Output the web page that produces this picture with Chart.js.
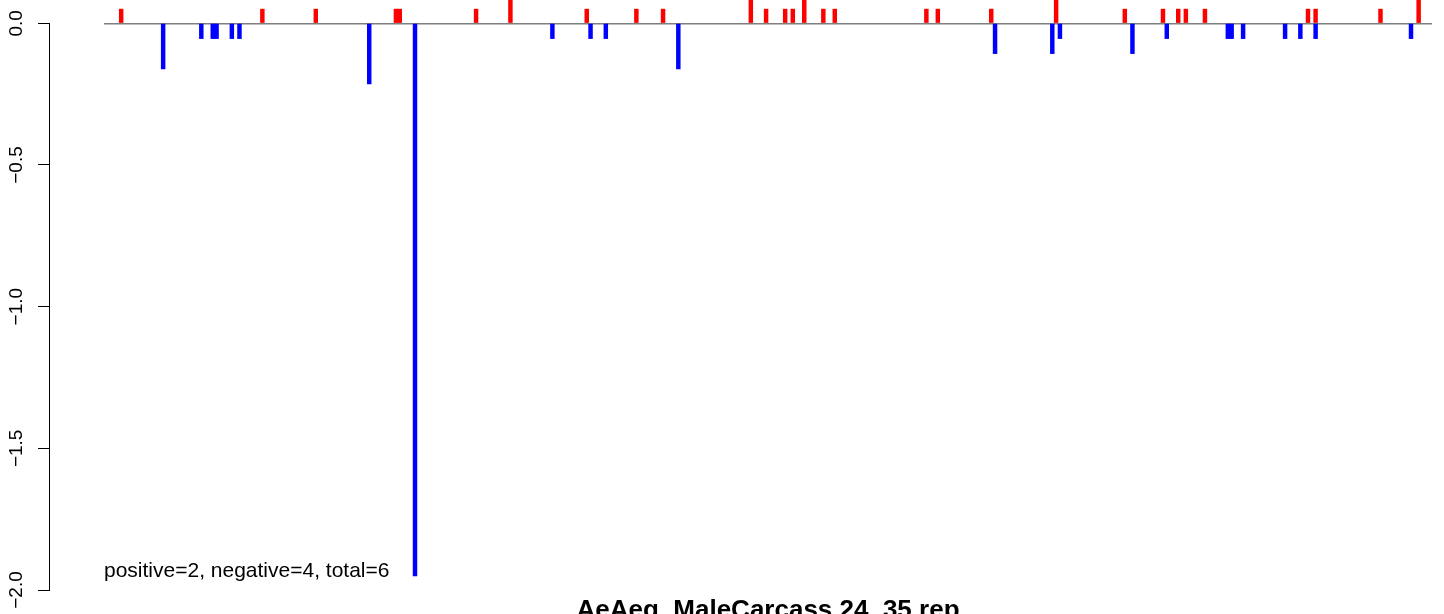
<!DOCTYPE html>
<html>
<head>
<meta charset="utf-8">
<script src="https://cdn.jsdelivr.net/npm/chart.js@4/dist/chart.umd.min.js"></script>
<style>
  html, body { margin: 0; padding: 0; background: #fff; }
</style>
</head>
<body>
<canvas id="myChart" width="1444" height="614"></canvas>
<script>
  // bar positions along the x axis (index of the probe) and their values
  const nPositions = 348
  const posIdx = [4, 41, 55, 76, 77, 97, 106, 126, 139, 146, 169, 173, 178, 180, 183,
    188, 191, 215, 218, 232, 249, 267, 277, 281, 283, 288, 315, 317, 334, 344]
  const posVal = [0.05, 0.05, 0.05, 0.05, 0.05, 0.05, 0.1, 0.05, 0.05, 0.05, 0.1, 0.05, 0.05, 0.05, 0.1,
    0.05, 0.05, 0.05, 0.05, 0.05, 0.1, 0.05, 0.05, 0.05, 0.05, 0.05, 0.05, 0.05, 0.05, 0.1]
  const negIdx = [15, 25, 28, 29, 33, 35, 69, 81, 117, 127, 131, 150,
    233, 248, 250, 269, 278, 294, 295, 298, 309, 313, 317, 342]
  const negVal = [-0.161, -0.054, -0.054, -0.054, -0.054, -0.054, -0.214, -1.95, -0.054, -0.054, -0.054, -0.161,
    -0.107, -0.107, -0.054, -0.107, -0.054, -0.054, -0.054, -0.054, -0.054, -0.054, -0.054, -0.054]
  const yTicks = [0, -0.5, -1.0, -1.5, -2.0]
  const yMin = -2.0
  const yMax = 0.0822
  const title = 'AeAeg_MaleCarcass 24_35 rep'
  const note = 'positive=2, negative=4, total=6'

  const labels = []
  for (let i = 1; i <= nPositions; i++) labels.push(String(i))

  function spread(idx, vals) {
    const out = new Array(nPositions).fill(null)
    idx.forEach((k, j) => { out[k] = vals[j] })
    return out
  }

  const FONT = "'Liberation Sans', Arial, Helvetica, sans-serif"

  // R-like axis line (only from first to last tick) and the count note
  const extras = {
    id: 'extras',
    afterDraw(chart) {
      const ctx = chart.ctx
      const ax = chart.scales.yAxis
      const x = ax.right
      ctx.save()
      ctx.strokeStyle = '#000'
      ctx.lineWidth = 1
      ctx.beginPath()
      ctx.moveTo(x - 0.5, ax.getPixelForValue(yTicks[0]))
      ctx.lineTo(x - 0.5, ax.getPixelForValue(yTicks[yTicks.length - 1]))
      ctx.stroke()
      ctx.fillStyle = '#000'
      ctx.font = '21px ' + FONT
      ctx.textAlign = 'left'
      ctx.textBaseline = 'alphabetic'
      ctx.fillText(note, chart.chartArea.left, 577)
      ctx.restore()
    }
  }

  function noPad(s) {
    s.paddingTop = 0
    s.paddingBottom = 0
  }

  const data = {
    labels: labels,
    datasets: [
      {
        label: 'positive',
        data: spread(posIdx, posVal),
        backgroundColor: '#ff0000',
        grouped: false,
        borderWidth: 0,
        barPercentage: 1,
        categoryPercentage: 1
      },
      {
        label: 'negative',
        data: spread(negIdx, negVal),
        backgroundColor: '#0000ff',
        grouped: false,
        borderWidth: 0,
        barPercentage: 1,
        categoryPercentage: 1
      }
    ]
  }

  const config = {
    type: 'bar',
    data: data,
    options: {
      responsive: false,
      animation: false,
      devicePixelRatio: 1,
      layout: { padding: { left: 0, right: 12, top: 0, bottom: 0 } },
      plugins: {
        legend: { display: false },
        tooltip: { enabled: false },
        title: {
          display: true,
          text: title,
          position: 'bottom',
          fullSize: false,
          color: '#000',
          font: { family: FONT, size: 26, weight: 'bold', lineHeight: 1 },
          padding: { top: 8, bottom: -10 }
        }
      },
      scales: {
        x: { display: false },
        y: {
          position: 'left',
          weight: 0,
          min: yMin,
          max: yMax,
          afterBuildTicks: s => { s.ticks = [{ value: 0 }] },
          afterFit: s => { s.width = 54; noPad(s) },
          ticks: { display: false },
          border: { display: false },
          grid: { drawTicks: false, color: '#7f7f7f', lineWidth: 1.5 }
        },
        yAxis: {
          type: 'linear',
          position: 'left',
          weight: 1,
          min: yMin,
          max: yMax,
          afterBuildTicks: s => { s.ticks = yTicks.map(v => ({ value: v })) },
          afterFit: s => { s.width = 50; noPad(s) },
          border: { display: false },
          grid: { drawOnChartArea: false, drawTicks: true, tickLength: 12, color: '#000', lineWidth: 1 },
          ticks: {
            autoSkip: false,
            minRotation: 90,
            maxRotation: 90,
            crossAlign: 'center',
            padding: 2.5,
            color: '#000',
            font: { family: FONT, size: 19 },
            callback: v => v.toFixed(1).replace('-', '\u2212')
          }
        }
      }
    },
    plugins: [extras]
  }

  const myChart = new Chart(
    document.getElementById('myChart'),
    config
  )
</script>
</body>
</html>
